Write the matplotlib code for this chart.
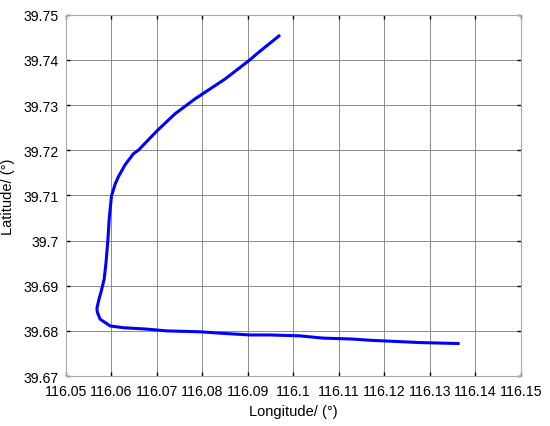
import matplotlib
matplotlib.use('Agg')
import matplotlib.pyplot as plt

plt.rcParams['font.family'] = ['Liberation Sans', 'DejaVu Sans']

# track (lon, lat)
lon = [116.0968, 116.0920, 116.0904, 116.0850, 116.0784, 116.0740, 116.0700,
       116.0659, 116.0648, 116.0630, 116.0615, 116.0608, 116.0600, 116.0595,
       116.0592, 116.0588, 116.0584, 116.0578, 116.0572, 116.0568, 116.0569,
       116.0575, 116.0597, 116.0626, 116.0677, 116.0721, 116.0795, 116.0838,
       116.0904, 116.0948, 116.1014, 116.1065, 116.1128, 116.1172, 116.1238,
       116.1282, 116.1362]
lat = [39.7453, 39.7414, 39.7400, 39.7358, 39.7314, 39.7281, 39.7243,
       39.7200, 39.7192, 39.7168, 39.7141, 39.7125, 39.7099, 39.7048,
       39.7000, 39.6952, 39.6915, 39.6890, 39.6868, 39.6850, 39.6841,
       39.6826, 39.6811, 39.6807, 39.6804, 39.6800, 39.6798, 39.6795,
       39.6791, 39.6791, 39.6789, 39.6784, 39.6782, 39.6779, 39.6776,
       39.6774, 39.6772]

xticks = [116.05, 116.06, 116.07, 116.08, 116.09, 116.10, 116.11, 116.12,
          116.13, 116.14, 116.15]
xlabels = ['116.05', '116.06', '116.07', '116.08', '116.09', '116.1', '116.11',
           '116.12', '116.13', '116.14', '116.15']
yticks = [39.67, 39.68, 39.69, 39.70, 39.71, 39.72, 39.73, 39.74, 39.75]
ylabels = ['39.67', '39.68', '39.69', '39.7', '39.71', '39.72', '39.73',
           '39.74', '39.75']

fig = plt.figure(figsize=(5.5, 4.27), dpi=100)
ax = fig.add_axes([0.12, 0.117, 0.827, 0.846])
ax.plot(lon, lat, color='#0000ff', lw=2.2, zorder=3)

ax.set_xlim(116.05, 116.15)
ax.set_ylim(39.67, 39.75)
ax.set_xticks(xticks)
ax.set_xticklabels(xlabels)
ax.set_yticks(yticks)
ax.set_yticklabels(ylabels)
ax.tick_params(direction='in', length=3, width=1, colors='black',
               labelsize=10.2, top=True, right=True)
ax.tick_params(axis='x', pad=6)
ax.tick_params(axis='y', pad=5)
ax.grid(True, color='#8c8c8c', lw=0.7)
for s in ax.spines.values():
    s.set_color('#aaaaaa')
    s.set_linewidth(0.8)

ax.set_xlabel('Longitude/ (°)', fontsize=10.5, labelpad=4)
ax.set_ylabel('Latitude/ (°)', fontsize=10.5, labelpad=6)

fig.savefig('out.png', dpi=100)
